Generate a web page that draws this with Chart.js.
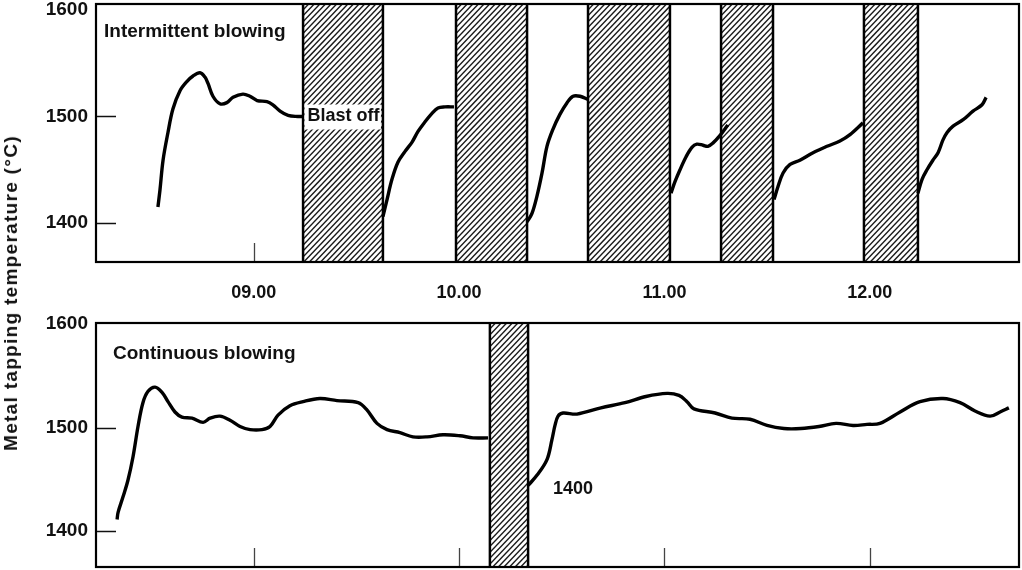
<!DOCTYPE html>
<html>
<head>
<meta charset="utf-8">
<script src="https://cdn.jsdelivr.net/npm/chart.js@4.4.0/dist/chart.umd.min.js"></script>
<style>
html, body { margin: 0; padding: 0; background: #fff; }
body { width: 1022px; height: 570px; position: relative; overflow: hidden; }
#topChart { position: absolute; left: 0; top: -20px; }
#bottomChart { position: absolute; left: 0; top: 290px; }
#ytitle {
  position: absolute; left: 11px; top: 293px;
  transform: translate(-50%, -50%) rotate(-90deg);
  white-space: nowrap; color: #111;
  font: bold 19px 'Liberation Sans', Arial, sans-serif; letter-spacing: 1.3px;
}
</style>
</head>
<body>
<canvas id="topChart" width="1022" height="320"></canvas>
<canvas id="bottomChart" width="1022" height="310"></canvas>
<div id="ytitle">Metal tapping temperature (°C)</div>
<script>
// time in decimal hours, temperature in °C
var hourTicks = [9, 10, 11, 12];
var hourLabels = ['09.00', '10.00', '11.00', '12.00'];
var tempTicks = [1400, 1500, 1600];

// intermittent blowing: one run between each blast-off
var intermittentTime = [
  [8.533, 8.543, 8.558, 8.582, 8.606, 8.640, 8.675, 8.704, 8.738, 8.762, 8.777, 8.801, 8.835, 8.869, 8.899, 8.947, 8.981, 9.016, 9.064, 9.093, 9.128, 9.167, 9.215, 9.235],
  [9.629, 9.649, 9.673, 9.702, 9.736, 9.771, 9.800, 9.834, 9.868, 9.897, 9.931, 9.975],
  [10.331, 10.355, 10.379, 10.404, 10.428, 10.457, 10.491, 10.526, 10.555, 10.589, 10.628],
  [11.032, 11.052, 11.076, 11.105, 11.134, 11.158, 11.188, 11.212, 11.236, 11.270, 11.309],
  [11.534, 11.553, 11.578, 11.612, 11.660, 11.724, 11.792, 11.855, 11.904, 11.967],
  [12.235, 12.255, 12.279, 12.308, 12.333, 12.357, 12.377, 12.406, 12.455, 12.503, 12.547, 12.567]
];
var intermittentTemp = [
  [1415, 1431, 1459, 1485, 1507, 1524, 1533, 1538, 1541, 1537, 1531, 1519, 1512, 1513, 1518, 1521, 1519, 1515, 1514, 1511, 1505, 1501, 1500, 1500],
  [1406, 1422, 1441, 1457, 1467, 1476, 1486, 1495, 1503, 1508, 1509, 1509],
  [1401, 1409, 1425, 1447, 1472, 1488, 1502, 1513, 1519, 1519, 1516],
  [1428, 1439, 1450, 1462, 1471, 1474, 1473, 1472, 1475, 1482, 1492],
  [1422, 1434, 1447, 1455, 1459, 1466, 1472, 1477, 1483, 1494],
  [1428, 1441, 1450, 1459, 1466, 1478, 1485, 1491, 1497, 1505, 1511, 1518]
];
var intermittentBlastOff = [[9.240, 9.629], [9.985, 10.331], [10.628, 11.027], [11.276, 11.529], [11.972, 12.235]];

// continuous blowing
var continuousTime = [
  [8.334, 8.339, 8.363, 8.387, 8.412, 8.436, 8.460, 8.485, 8.519, 8.553, 8.582, 8.616, 8.650, 8.699, 8.753, 8.787, 8.835, 8.884, 8.933, 8.982, 9.040, 9.079, 9.118, 9.176, 9.240, 9.322, 9.405, 9.508, 9.551, 9.600, 9.649, 9.712, 9.775, 9.844, 9.922, 10.004, 10.068, 10.141],
  [10.336, 10.380, 10.428, 10.452, 10.467, 10.482, 10.506, 10.574, 10.691, 10.808, 10.910, 11.013, 11.071, 11.110, 11.144, 11.247, 11.329, 11.417, 11.500, 11.582, 11.665, 11.753, 11.836, 11.919, 11.987, 12.050, 12.148, 12.245, 12.357, 12.440, 12.513, 12.586, 12.635, 12.678]
];
var continuousTemp = [
  [1411, 1418, 1433, 1449, 1472, 1501, 1524, 1535, 1539, 1534, 1525, 1515, 1510, 1509, 1505, 1509, 1511, 1507, 1501, 1498, 1498, 1501, 1512, 1521, 1525, 1528, 1526, 1524, 1517, 1504, 1498, 1495, 1491, 1491, 1493, 1492, 1490, 1490],
  [1444, 1454, 1469, 1488, 1502, 1511, 1514, 1513, 1519, 1524, 1530, 1533, 1531, 1525, 1518, 1514, 1509, 1508, 1502, 1499, 1499, 1501, 1504, 1502, 1503, 1504, 1515, 1525, 1528, 1524, 1516, 1511, 1515, 1519]
];
var continuousBlastOff = [[10.150, 10.336]];

var FONT = "'Liberation Sans', Arial, sans-serif";
Chart.defaults.font.family = FONT;
Chart.defaults.font.size = 18;
Chart.defaults.font.weight = 'bold';
Chart.defaults.color = '#111';

function runs(times, temps) {
  return times.map(function (ts, i) {
    return {
      data: ts.map(function (t, j) { return { x: t, y: temps[i][j] }; }),
      borderColor: '#000',
      borderWidth: 3.4,
      pointRadius: 0,
      tension: 0.35,
      fill: false
    };
  });
}

var panel = {
  id: 'panel',
  beforeDatasetsDraw: function (chart, args, opts) {
    var ctx = chart.ctx, a = chart.chartArea, x = chart.scales.x, y = chart.scales.y;
    ctx.save();
    // inner tick marks
    ctx.strokeStyle = '#444';
    ctx.lineWidth = 1.3;
    hourTicks.forEach(function (h) {
      var px = Math.round(x.getPixelForValue(h)) + 0.5;
      ctx.beginPath(); ctx.moveTo(px, a.bottom); ctx.lineTo(px, a.bottom - 19); ctx.stroke();
    });
    ctx.strokeStyle = '#111';
    ctx.lineWidth = 1.5;
    [1400, 1500].forEach(function (v) {
      var py = Math.round(y.getPixelForValue(v)) + 0.5;
      ctx.beginPath(); ctx.moveTo(a.left, py); ctx.lineTo(a.left + 20, py); ctx.stroke();
    });
    // hatched blast-off periods
    opts.periods.forEach(function (p) {
      var x1 = x.getPixelForValue(p[0]), x2 = x.getPixelForValue(p[1]);
      var h = a.bottom - a.top, run = h / 1.05;
      ctx.save();
      ctx.fillStyle = '#fff';
      ctx.fillRect(x1, a.top, x2 - x1, h);
      ctx.beginPath(); ctx.rect(x1, a.top, x2 - x1, h); ctx.clip();
      ctx.strokeStyle = '#1a1a1a';
      ctx.lineWidth = 1.4;
      for (var px = x1 - run; px < x2; px += 5.6) {
        ctx.beginPath(); ctx.moveTo(px, a.bottom); ctx.lineTo(px + run, a.top); ctx.stroke();
      }
      ctx.restore();
      ctx.strokeStyle = '#000';
      ctx.lineWidth = 2.5;
      [x1, x2].forEach(function (q) {
        ctx.beginPath(); ctx.moveTo(q, a.top); ctx.lineTo(q, a.bottom); ctx.stroke();
      });
    });
    ctx.restore();
  },
  afterDatasetsDraw: function (chart, args, opts) {
    var ctx = chart.ctx, a = chart.chartArea, x = chart.scales.x, y = chart.scales.y;
    ctx.save();
    ctx.strokeStyle = '#000';
    ctx.lineWidth = 2.2;
    ctx.strokeRect(a.left, a.top, a.right - a.left, a.bottom - a.top);
    ctx.font = 'bold 19px ' + FONT;
    ctx.fillStyle = '#111';
    ctx.textBaseline = 'middle';
    ctx.textAlign = 'left';
    ctx.fillText(opts.title, a.left + opts.titleDx, a.top + opts.titleDy);
    (opts.notes || []).forEach(function (n) {
      var px = x.getPixelForValue(n.t), py = y.getPixelForValue(n.v);
      ctx.font = 'bold 18px ' + FONT;
      if (n.box) {
        var w = x.getPixelForValue(n.box[1]) - x.getPixelForValue(n.box[0]) - 3.5;
        ctx.fillStyle = '#fff';
        ctx.fillRect(x.getPixelForValue(n.box[0]) + 1.5, py - 12, w, 25);
      }
      ctx.fillStyle = '#111';
      ctx.fillText(n.text, px, py);
    });
    ctx.restore();
  }
};

function scalesFor(yMin, yMax, showX) {
  return {
    x: {
      type: 'linear', min: 8.2314, max: 12.7272,
      afterBuildTicks: function (s) { s.ticks = hourTicks.map(function (v) { return { value: v }; }); },
      afterFit: function (s) { s.height = showX ? 38 : 33; },
      ticks: {
        display: showX, padding: 12, maxRotation: 0, autoSkip: false,
        callback: function (v) { return hourLabels[hourTicks.indexOf(v)]; }
      },
      grid: { display: false }, border: { display: false }
    },
    y: {
      min: yMin, max: yMax,
      afterBuildTicks: function (s) { s.ticks = tempTicks.map(function (v) { return { value: v }; }); },
      afterFit: function (s) { s.width = 96; },
      ticks: { padding: 0, font: { size: 19 }, callback: function (v) { return String(v); } },
      grid: { display: false }, border: { display: false }
    }
  };
}

var common = {
  responsive: false,
  animation: false,
  devicePixelRatio: 1,
  events: []
};

new Chart(document.getElementById('topChart'), {
  type: 'line',
  data: { datasets: runs(intermittentTime, intermittentTemp) },
  options: Object.assign({}, common, {
    layout: { padding: { left: 0, right: 3, top: 24, bottom: 0 } },
    scales: scalesFor(1363.4, 1605.6, true),
    plugins: {
      legend: { display: false }, tooltip: { enabled: false },
      panel: {
        periods: intermittentBlastOff,
        title: 'Intermittent blowing', titleDx: 8, titleDy: 28,
        notes: [{ text: 'Blast off', t: 9.262, v: 1500, box: intermittentBlastOff[0] }]
      }
    }
  }),
  plugins: [panel]
});

new Chart(document.getElementById('bottomChart'), {
  type: 'line',
  data: { datasets: runs(continuousTime, continuousTemp) },
  options: Object.assign({}, common, {
    layout: { padding: { left: 0, right: 3, top: 33, bottom: 0 } },
    scales: scalesFor(1365.2, 1601, false),
    plugins: {
      legend: { display: false }, tooltip: { enabled: false },
      panel: {
        periods: continuousBlastOff,
        title: 'Continuous blowing', titleDx: 17, titleDy: 31,
        notes: [{ text: '1400', t: 10.457, v: 1440.6 }]
      }
    }
  }),
  plugins: [panel]
});
</script>
</body>
</html>
